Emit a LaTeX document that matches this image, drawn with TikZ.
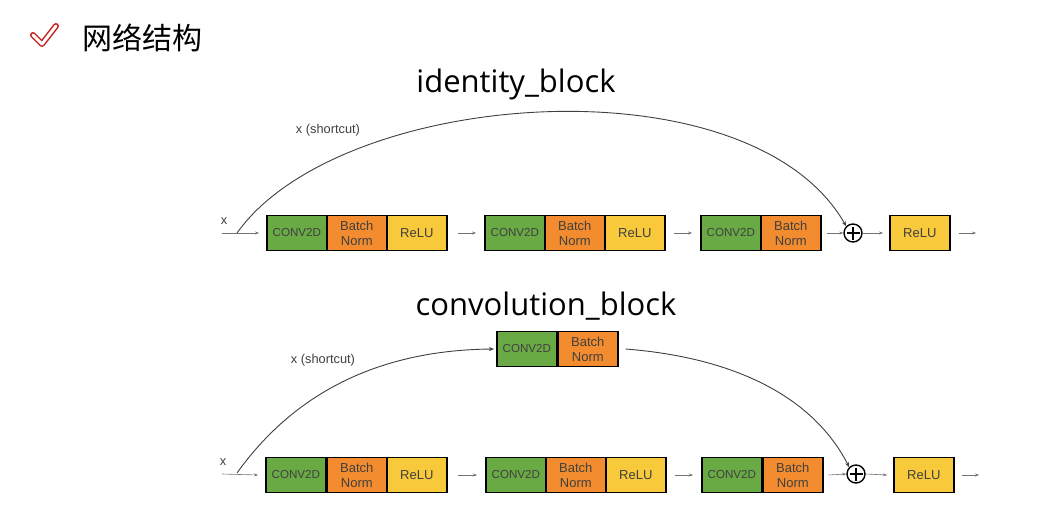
\documentclass[tikz,border=0pt]{standalone}
\usepackage{fontspec}
\setmainfont{Liberation Sans}
\newfontfamily\cjkfont{Noto Sans CJK SC}
\newfontfamily\titlefont{Open Sans}
\usetikzlibrary{arrows.meta}
\definecolor{cgreen}{HTML}{69AA45}
\definecolor{corange}{HTML}{F38C2E}
\definecolor{cyellow}{HTML}{F7C93B}
\definecolor{cred}{HTML}{C8201E}
\tikzset{
  blk/.style={draw=black, line width=1.6pt, minimum height=35pt, minimum width=60pt,
    inner sep=0pt, anchor=west, font=\fontsize{13}{15}\selectfont, text=black!75, align=center},
  gbox/.style={blk, fill=cgreen, font=\fontsize{11.6}{14}\selectfont},
  obox/.style={blk, fill=corange},
  ybox/.style={blk, fill=cyellow},
  flow/.style={draw=black!55, line width=0.6pt, -{Stealth[length=4pt,width=3pt]}},
  sc/.style={draw=black!75, line width=0.9pt, -{Stealth[length=5pt,width=4pt]}},
  plusnode/.style={circle, draw=black, line width=1.4pt, minimum size=18pt, inner sep=0pt,
    path picture={\draw[line width=1.4pt] ([yshift=-2.5pt]path picture bounding box.north) -- ([yshift=2.5pt]path picture bounding box.south)
      ([xshift=2.5pt]path picture bounding box.west) -- ([xshift=-2.5pt]path picture bounding box.east);}},
  lbl/.style={font=\fontsize{12.8}{14}\selectfont, text=black!75},
  ttl/.style={font=\titlefont\fontsize{31}{36}\selectfont, text=black},
}
\begin{document}
\begin{tikzpicture}[x=1pt,y=-1pt]
\path[use as bounding box, fill=white] (0,0) rectangle (1058,525);

% header
\draw[cred, line width=6pt, line cap=round, line join=round] (33,35) -- (42,44) -- (56,26);
\draw[white, line width=3pt, line cap=round, line join=round] (33,35) -- (42,44) -- (56,26);
\node[anchor=west, font=\cjkfont\fontsize{30}{34}\selectfont, inner sep=0pt] (head) at (82,38) {网络结构};

% ===== identity block =====
\node[ttl] (t1) at (516,84) {identity\_block};

\node[gbox] (a1) at (266,233) {CONV2D};
\node[obox] (a2) at (326,233) {Batch\\Norm};
\node[ybox] (a3) at (386,233) {ReLU};
\node[gbox] (b1) at (484,233) {CONV2D};
\node[obox] (b2) at (544,233) {Batch\\Norm};
\node[ybox] (b3) at (604,233) {ReLU};
\node[gbox] (c1) at (700,233) {CONV2D};
\node[obox] (c2) at (760,233) {Batch\\Norm};
\node[plusnode] (p1) at (853,233) {};
\node[ybox] (d1) at (889,233) {ReLU};

\coordinate (xin1) at (222,233);
\coordinate (xs1) at (237,233);
\coordinate (out1) at (976,233);
\node[lbl] (x1) at (224,221) {x};
\node[lbl] (s1) at (328,130) {x (shortcut)};

\draw[flow] (xin1) -- ([xshift=-7pt]a1.west);
\draw[flow] ([xshift=10pt]a3.east) -- ([xshift=-8pt]b1.west);
\draw[flow] ([xshift=8pt]b3.east) -- ([xshift=-8pt]c1.west);
\draw[flow] ([xshift=5pt]c2.east) -- (p1.west);
\draw[flow] (p1.east) -- ([xshift=-6pt]d1.west);
\draw[flow] ([xshift=8pt]d1.east) -- (out1);
\draw[sc] (xs1) .. controls (340,88) and (750,58) .. (p1.north west);

% ===== convolution block =====
\node[ttl] (t2) at (546,306) {convolution\_block};

\node[gbox] (e1) at (265,475) {CONV2D};
\node[obox] (e2) at (326,475) {Batch\\Norm};
\node[ybox] (e3) at (386,475) {ReLU};
\node[gbox] (f1) at (485,475) {CONV2D};
\node[obox] (f2) at (545,475) {Batch\\Norm};
\node[ybox] (f3) at (605,475) {ReLU};
\node[gbox] (g1) at (701,475) {CONV2D};
\node[obox] (g2) at (762,475) {Batch\\Norm};
\node[plusnode] (p2) at (856,474) {};
\node[ybox] (h1) at (893,475) {ReLU};

\node[gbox] (k1) at (496,349) {CONV2D};
\node[obox] (k2) at (557,349) {Batch\\Norm};

\coordinate (xin2) at (222,474);
\coordinate (xs2) at (237,473);
\coordinate (out2) at (979,475);
\node[lbl] (x2) at (223,462) {x};
\node[lbl] (s2) at (323,360) {x (shortcut)};

\draw[flow] (xin2) -- ([xshift=-7pt]e1.west);
\draw[flow] ([xshift=10pt]e3.east) -- ([xshift=-8pt]f1.west);
\draw[flow] ([xshift=8pt]f3.east) -- ([xshift=-8pt]g1.west);
\draw[flow] ([xshift=5pt]g2.east) -- (p2.west);
\draw[flow] (p2.east) -- ([xshift=-6pt]h1.west);
\draw[flow] ([xshift=7pt]h1.east) -- (out2);
\draw[sc] (xs2) .. controls (300,385) and (390,350) .. ([xshift=-2pt]k1.west);
\draw[sc] ([xshift=7pt]k2.east) .. controls (740,358) and (815,400) .. (p2.north west);
\end{tikzpicture}
\end{document}
